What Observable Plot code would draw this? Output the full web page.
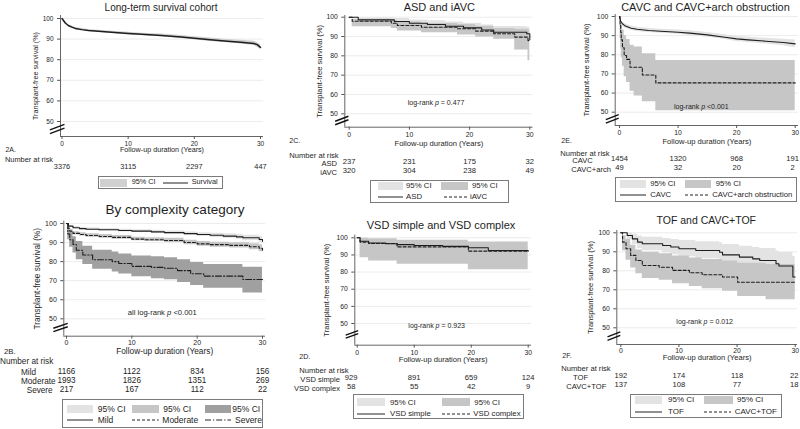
<!DOCTYPE html>
<html><head><meta charset="utf-8">
<script src="https://cdn.jsdelivr.net/npm/d3@7"></script>
<script src="https://cdn.jsdelivr.net/npm/@observablehq/plot@0.6"></script>
<style>
body{margin:0;background:#fff;font-family:"Liberation Sans",Arial,sans-serif;}
#root{position:relative;width:800px;height:429px;overflow:hidden;background:#fff;}
.abs{position:absolute;white-space:nowrap;color:#1e1e1e;}
</style></head><body><div id="root"></div>
<script>
// ---------- shared ----------
const xTicks = [0, 10, 20, 30];
const yTicks = [50, 60, 70, 80, 90, 100];
const xTitle = "Follow-up duration (Years)";
const yTitle = "Transplant-free survival (%)";

// ---------- 2A Long-term survival cohort ----------
const aTime = [0, 0.25, 0.5, 1, 1.5, 2, 3, 4, 5, 7, 10, 12, 15, 18, 20, 22, 25, 27, 29, 29.5, 30];
const aSurv = [100, 98.9, 97.8, 96.5, 95.8, 95.2, 94.6, 94.2, 93.9, 93.4, 92.7, 92.3, 91.8, 91.0, 90.4, 89.8, 89.0, 88.5, 87.9, 87.3, 86.0];
const aLo   = [100, 98.6, 97.4, 96.0, 95.3, 94.7, 94.1, 93.7, 93.4, 92.9, 92.1, 91.7, 91.1, 90.3, 89.7, 89.0, 88.2, 87.6, 86.9, 86.2, 84.8];
const aHi   = [100, 99.2, 98.2, 97.0, 96.3, 95.7, 95.1, 94.7, 94.4, 93.9, 93.3, 92.9, 92.5, 91.7, 91.1, 90.6, 89.8, 89.4, 88.9, 88.4, 87.2];
const aRisk = [3376, 3115, 2297, 447];

// ---------- 2B By complexity category ----------
const bMildTime = [0, 0.3, 1, 2, 3, 5, 8, 10, 13, 15, 18, 20, 22, 24, 26, 27, 29.5, 30];
const bMild     = [100, 98.6, 97.8, 97.3, 97.0, 96.7, 96.3, 96.0, 95.6, 95.2, 94.7, 94.2, 93.8, 93.4, 93.0, 92.5, 91.6, 90.7];
const bMildLo   = [100, 98.1, 97.2, 96.7, 96.4, 96.0, 95.6, 95.3, 94.8, 94.4, 93.8, 93.2, 92.7, 92.2, 91.7, 91.1, 90.0, 88.9];
const bMildHi   = [100, 99.1, 98.4, 97.9, 97.6, 97.4, 97.0, 96.7, 96.4, 96.0, 95.6, 95.2, 94.9, 94.6, 94.3, 93.9, 93.2, 92.5];
const bModTime  = [0, 0.2, 0.5, 1, 2, 3, 5, 7, 10, 12, 15, 18, 20, 22, 25, 28, 29.5, 30];
const bMod      = [100, 97.5, 96.0, 94.8, 94.2, 93.7, 93.2, 92.7, 91.8, 91.5, 91.1, 90.0, 89.3, 88.9, 88.5, 87.8, 87.0, 86.0];
const bModLo    = [100, 96.8, 95.1, 94.0, 93.4, 92.8, 92.3, 91.8, 90.9, 90.5, 90.0, 88.9, 88.1, 87.6, 87.1, 86.2, 85.2, 84.0];
const bModHi    = [100, 98.2, 96.9, 95.7, 95.1, 94.6, 94.2, 93.7, 92.8, 92.5, 92.2, 91.2, 90.5, 90.2, 89.9, 89.4, 88.8, 88.0];
const bSevTime  = [0, 0.2, 0.5, 1, 1.5, 2.5, 4, 7, 8, 10, 13, 15, 17, 19, 21, 27, 30];
const bSev      = [100, 94.5, 91.5, 89.0, 86.0, 83.5, 81.0, 80.0, 79.0, 77.5, 77.0, 76.5, 75.3, 73.6, 72.4, 70.6, 70.6];
const bSevLo    = [100, 91.5, 87.5, 84.5, 81.0, 78.5, 76.0, 74.5, 73.5, 72.0, 71.0, 70.5, 69.0, 67.5, 66.0, 63.6, 63.6];
const bSevHi    = [100, 97.5, 95.5, 93.0, 90.5, 88.0, 86.0, 85.0, 84.0, 83.0, 82.5, 82.0, 81.0, 79.5, 78.5, 77.0, 77.0];
const bRiskMild = [1166, 1122, 834, 156];
const bRiskMod  = [1993, 1826, 1351, 269];
const bRiskSev  = [217, 167, 112, 22];

// ---------- 2C ASD and iAVC ----------
const cAsdTime  = [0, 1.5, 7.5, 10, 13, 16, 19, 22, 24, 29.5, 30];
const cAsd      = [100, 98.6, 97.8, 96.9, 96.2, 95.3, 94.5, 93.4, 92.2, 91.4, 88.3];
const cAsdLo    = [100, 97.0, 96.0, 95.0, 94.2, 93.2, 92.2, 90.8, 89.3, 88.0, 82.0];
const cAsdHi    = [100, 99.6, 99.3, 98.6, 98.1, 97.5, 96.9, 96.0, 95.2, 94.8, 93.0];
const cIavcTime = [0, 0.5, 7, 8, 12, 18, 21, 24, 27.5, 29.7, 30];
const cIavc     = [100, 97.9, 96.9, 95.7, 94.8, 94.0, 92.8, 91.4, 89.7, 87.9, 87.9];
const cIavcLo   = [100, 95.0, 94.2, 92.8, 92.0, 90.8, 89.8, 88.6, 83.0, 77.5, 77.5];
const cIavcHi   = [100, 99.0, 98.4, 97.5, 96.8, 96.2, 95.3, 94.2, 93.7, 93.5, 93.5];
const cRiskAsd  = [237, 231, 175, 32];
const cRiskIavc = [320, 304, 238, 49];

// ---------- 2D VSD simple and VSD complex ----------
const dSimpleTime  = [0, 0.5, 2, 5, 7, 10, 15, 19.5, 23, 30];
const dSimple      = [100, 98.0, 97.0, 96.5, 96.0, 95.5, 95.0, 94.2, 92.6, 92.2];
const dSimpleLo    = [100, 97.0, 96.0, 95.3, 94.8, 94.2, 93.6, 92.7, 90.8, 90.2];
const dSimpleHi    = [100, 98.9, 98.0, 97.5, 97.1, 96.7, 96.3, 95.6, 94.3, 94.0];
const dComplexTime = [0, 0.5, 2, 7, 19.5, 30];
const dComplex     = [100, 97.5, 96.7, 94.7, 92.2, 92.2];
const dComplexLo   = [100, 88.3, 86.5, 84.5, 81.3, 81.3];
const dComplexHi   = [100, 99.8, 99.5, 98.6, 97.5, 97.5];
const dRiskSimple  = [929, 891, 659, 124];
const dRiskComplex = [58, 55, 42, 9];

// ---------- 2E CAVC and CAVC+arch obstruction ----------
const eCavcTime = [0, 0.2, 0.5, 1, 2, 3, 5, 7, 10, 12, 15, 18, 20, 22, 25, 28, 30];
const eCavc     = [100, 97.5, 96.2, 95.0, 93.9, 93.3, 92.7, 92.3, 91.8, 91.3, 90.4, 89.2, 88.3, 87.8, 87.1, 86.4, 85.7];
const eCavcLo   = [100, 96.7, 95.2, 93.9, 92.8, 92.2, 91.6, 91.2, 90.7, 90.1, 89.2, 88.0, 87.0, 86.4, 85.6, 84.7, 83.7];
const eCavcHi   = [100, 98.3, 97.2, 96.1, 95.0, 94.4, 93.8, 93.4, 92.9, 92.5, 91.6, 90.4, 89.6, 89.2, 88.6, 88.1, 87.7];
const eArchTime = [0, 0.1, 0.2, 0.3, 0.5, 0.8, 1.2, 1.8, 2.5, 3.9, 6.2, 30];
const eArch     = [100, 95.9, 91.8, 87.8, 83.7, 79.6, 77.6, 73.5, 73.5, 69.4, 65.3, 65.3];
const eArchLo   = [100, 88.5, 83.0, 78.5, 74.0, 68.5, 65.5, 61.0, 58.5, 55.5, 50.8, 50.8];
const eArchHi   = [100, 99.4, 97.5, 95.5, 93.0, 90.0, 88.0, 85.0, 84.0, 80.5, 77.0, 77.0];
const eRiskCavc = [1454, 1320, 968, 191];
const eRiskArch = [49, 32, 20, 2];

// ---------- 2F TOF and CAVC+TOF ----------
const fTofTime = [0, 1.1, 2, 2.9, 3.7, 7.2, 8.6, 10, 12.9, 17, 17.5, 20.4, 22.7, 23.9, 26.7, 27.2, 29.6, 30];
const fTof     = [100, 98.6, 96.8, 95.1, 94.2, 93.3, 92.5, 91.6, 90.7, 89.8, 88.4, 87.2, 86.3, 85.4, 83.7, 82.5, 76.7, 76.7];
const fTofLo   = [100, 96.5, 93.8, 91.8, 90.6, 89.5, 88.5, 87.4, 86.4, 85.3, 83.8, 82.4, 81.3, 80.2, 78.2, 76.6, 68.0, 68.0];
const fTofHi   = [100, 99.8, 99.2, 98.3, 97.7, 97.0, 96.5, 95.9, 95.3, 94.7, 93.8, 92.9, 92.3, 91.7, 90.4, 89.6, 87.5, 87.5];
const fCtTime  = [0, 0.3, 0.9, 1.7, 2.6, 3.7, 6.6, 8.9, 11.8, 14, 17.5, 20.1, 25, 30];
const fCt      = [100, 95.1, 91.6, 88.1, 85.4, 82.8, 81.9, 80.2, 79.0, 77.9, 76.7, 74.0, 74.0, 74.0];
const fCtLo    = [100, 90.5, 85.5, 81.5, 78.5, 76.0, 75.0, 73.2, 71.8, 70.6, 69.2, 66.5, 64.8, 64.8];
const fCtHi    = [100, 98.5, 96.5, 93.5, 91.0, 89.7, 89.0, 87.8, 86.8, 86.0, 85.2, 84.0, 83.3, 83.3];
const fRiskTof = [192, 174, 118, 22];
const fRiskCt  = [137, 108, 77, 18];

// ---------- styles ----------
const LIGHT = "#e3e3e3", MED = "#c6c6c6", DARK = "#a0a0a0", ABAND = "#d0d0d0";
const DASH = "3,2", DASHDOT = "6,2,1.2,2";

const rows = (t, s, lo, hi) => t.map((d, i) => ({t: d, s: s[i], lo: lo[i], hi: hi[i]}));
const root = document.getElementById("root");

function label(html, x, y, size, anchor = "start", extra = {}) {
  const d = document.createElement("div");
  d.className = "abs";
  d.innerHTML = html;
  d.style.fontSize = size + "px";
  d.style.lineHeight = (size * 1.2) + "px";
  d.style.top = (y - size * 0.588) + "px";
  if (anchor === "start") d.style.left = x + "px";
  else if (anchor === "end") d.style.right = (800 - x) + "px";
  else { d.style.left = x + "px"; d.style.transform = "translateX(-50%)"; }
  Object.assign(d.style, extra);
  root.appendChild(d);
}

function legendBox(box, items, size) {
  const [x1, y1, x2, y2] = box;
  const b = document.createElement("div");
  b.className = "abs";
  Object.assign(b.style, {left: x1 + "px", top: y1 + "px", width: (x2 - x1) + "px", height: (y2 - y1) + "px",
    border: "1px solid #7a7a7a", boxSizing: "border-box"});
  root.appendChild(b);
  for (const it of items) {
    if (it.fill) {
      const r = document.createElement("div");
      r.className = "abs";
      Object.assign(r.style, {left: it.x1 + "px", top: (it.y - 4) + "px", width: (it.x2 - it.x1) + "px", height: "8px", background: it.fill});
      root.appendChild(r);
    } else {
      const svg = d3.create("svg").attr("width", it.x2 - it.x1).attr("height", 4)
        .style("position", "absolute").style("left", it.x1 + "px").style("top", (it.y - 2) + "px");
      svg.append("line").attr("x1", 0).attr("x2", it.x2 - it.x1).attr("y1", 2).attr("y2", 2)
        .attr("stroke", "#222").attr("stroke-width", 1).attr("stroke-dasharray", it.dash || null);
      root.appendChild(svg.node());
    }
    label(it.label, it.lx, it.y, size);
  }
}

function drawPanel(p) {
  const [cx, cy, cw, ch] = p.cell;
  const kx = (p.X30 - p.X0) / 30, ky = (p.Y50 - p.Y100) / 50;
  const xa = -(p.X0 - p.Xl) / kx, xb = 30 + (p.Xr - p.X30) / kx;
  const ya = 50 - (p.Yb - p.Y50) / ky, yb = 100 + (p.Y100 - p.Yt) / ky;
  const yc = (ya + 50) / 2;
  const brk = [-0.9, 0.9].map(o => ({x1: xa - 1.6, x2: xa + 0.6, y1: yc + o - 1.3, y2: yc + o + 1.3}));
  const riskData = r => xTicks.map((t, i) => ({t, n: String(r.n[i])}));
  const colDx = t => t === 0 ? (p.firstDx || 0) : t === 30 ? (p.lastDx || 0) : 0;
  const marks = [
    Plot.gridY(yTicks, {stroke: "#ececec", strokeOpacity: 1}),
    ...p.bands.map(b => Plot.areaY(b.data, {x: "t", y1: "lo", y2: "hi", curve: b.curve || "step-after", fill: b.fill})),
    ...p.lines.map(l => Plot.line(l.data, {x: "t", y: "s", curve: l.curve || "step-after", stroke: "#1e1e1e",
      strokeWidth: l.width || 1.1, strokeDasharray: l.dash || null})),
    Plot.ruleX([xa], {stroke: "#555", strokeWidth: 0.9}),
    Plot.ruleY([ya], {stroke: "#555", strokeWidth: 0.9}),
    Plot.axisX(xTicks, {tickSize: 3, tickPadding: p.xPad ?? 2, fontSize: p.tick, label: null, stroke: "#555"}),
    Plot.axisY(yTicks, {tickSize: 3, tickPadding: 4, fontSize: p.tick, label: null, stroke: "#555"}),
    Plot.link(brk, {x1: "x1", y1: "y1", x2: "x2", y2: "y2", stroke: "#111", strokeWidth: 1.4}),
    Plot.text([xTitle], {frameAnchor: "bottom", textAnchor: "middle", dy: p.xlabY - p.Yb, fontSize: p.lab}),
    Plot.text([yTitle], {frameAnchor: "left", textAnchor: "middle", rotate: -90, dx: p.ylabX - p.Xl, fontSize: p.lab}),
    ...p.risk.flatMap(r => xTicks.map(t => Plot.text(riskData(r).filter(d => d.t === t),
      {x: "t", text: "n", frameAnchor: "bottom", textAnchor: "middle", dy: r.y - p.Yb, dx: colDx(t), fontSize: p.riskSize})))
  ];
  const svg = Plot.plot({
    width: cw, height: ch,
    marginLeft: p.Xl - cx, marginRight: cx + cw - p.Xr,
    marginTop: p.Yt - cy, marginBottom: cy + ch - p.Yb,
    x: {domain: [xa, xb]}, y: {domain: [ya, yb]},
    style: `position:absolute;left:${cx}px;top:${cy}px;overflow:visible;background:transparent;font-family:'Liberation Sans',Arial,sans-serif;color:#1e1e1e;max-width:none;`,
    marks
  });
  root.appendChild(svg);
  label(p.title, p.titleX, p.titleY, p.titleSize, "middle");
  label(p.tag, p.tagX, p.tagY, p.riskSize - 0.5);
  label("Number at risk", p.narX, p.narY, p.riskSize);
  for (const r of p.risk) if (r.name) label(r.name, r.lx, r.y, p.riskSize, r.anchor || "start");
  if (p.logrank) label(p.logrank, p.lrX, p.lrY, p.lrSize || 7, "middle");
  legendBox(p.legend.box, p.legend.items, p.legend.size);
}

// ---------- panels ----------
drawPanel({
  cell: [0, 0, 266, 200], Xl: 60, X0: 61.5, X30: 260, Xr: 263, Yt: 15, Y100: 18, Y50: 121, Yb: 136,
  tick: 6.5, lab: 7.2, riskSize: 7.4, xlabY: 151.5, ylabX: 35, xPad: 1.5,
  bands: [{data: rows(aTime, aSurv, aLo, aHi), fill: ABAND, curve: "linear"}],
  lines: [{data: rows(aTime, aSurv, aLo, aHi), curve: "linear", width: 1.5}],
  risk: [{n: aRisk, y: 168}],
  title: "Long-term survival cohort", titleX: 161, titleY: 7.5, titleSize: 10,
  tag: "2A.", tagX: 5.5, tagY: 150, narX: 5, narY: 160,
  legend: {box: [98.3, 176, 223.3, 189.3], size: 7.3, items: [
    {fill: ABAND, x1: 99.7, x2: 126.7, y: 182.7, label: "95% CI", lx: 131.7},
    {x1: 163.3, x2: 188.3, y: 182.7, label: "Survival", lx: 191.7}]}
});

drawPanel({
  cell: [0, 200, 266, 229], Xl: 63.3, X0: 66, X30: 262, Xr: 265, Yt: 220.7, Y100: 223, Y50: 318.3, Yb: 335.7,
  tick: 7, lab: 8.3, riskSize: 8.2, xlabY: 353.5, ylabX: 37, xPad: 1,
  bands: [
    {data: rows(bMildTime, bMild, bMildLo, bMildHi), fill: LIGHT},
    {data: rows(bModTime, bMod, bModLo, bModHi), fill: MED},
    {data: rows(bSevTime, bSev, bSevLo, bSevHi), fill: DARK}],
  lines: [
    {data: rows(bMildTime, bMild, bMildLo, bMildHi)},
    {data: rows(bModTime, bMod, bModLo, bModHi), dash: DASH},
    {data: rows(bSevTime, bSev, bSevLo, bSevHi), dash: DASHDOT}],
  risk: [
    {n: bRiskMild, y: 373.3, name: "Mild", lx: 21},
    {n: bRiskMod, y: 382.3, name: "Moderate", lx: 21},
    {n: bRiskSev, y: 391.3, name: "Severe", lx: 26.7}],
  title: "By complexity category", titleX: 175, titleY: 209.5, titleSize: 13.5,
  tag: "2B.", tagX: 4, tagY: 351.5, narX: 0, narY: 361.8,
  logrank: "all log-rank <i>p</i> &lt;0.001", lrX: 162.3, lrY: 312.3, lrSize: 7.6,
  legend: {box: [61.7, 399, 263.3, 428], size: 8.5, items: [
    {fill: LIGHT, x1: 66.7, x2: 93.3, y: 409, label: "95% CI", lx: 97.7},
    {fill: MED, x1: 132.3, x2: 159, y: 409, label: "95% CI", lx: 163.3},
    {fill: DARK, x1: 205, x2: 231, y: 409, label: "95% CI", lx: 232.3},
    {x1: 66.7, x2: 93.3, y: 420, label: "Mild", lx: 97.7},
    {x1: 132.3, x2: 159, y: 420, dash: DASH, label: "Moderate", lx: 162.3},
    {x1: 205, x2: 231, y: 420, dash: DASHDOT, label: "Severe", lx: 235}]}
});

drawPanel({
  cell: [266, 0, 267, 200], Xl: 344.3, X0: 348.7, X30: 529.3, Xr: 532.5, Yt: 15, Y100: 16.7, Y50: 113.3, Yb: 126.7,
  tick: 6.8, lab: 7.6, riskSize: 7.6, xlabY: 145, ylabX: 319.3,
  bands: [
    {data: rows(cAsdTime, cAsd, cAsdLo, cAsdHi), fill: LIGHT},
    {data: rows(cIavcTime, cIavc, cIavcLo, cIavcHi), fill: MED}],
  lines: [
    {data: rows(cAsdTime, cAsd, cAsdLo, cAsdHi)},
    {data: rows(cIavcTime, cIavc, cIavcLo, cIavcHi), dash: DASH}],
  risk: [
    {n: cRiskAsd, y: 163.3, name: "ASD", lx: 337, anchor: "end"},
    {n: cRiskIavc, y: 172, name: "iAVC", lx: 337, anchor: "end"}],
  title: "ASD and iAVC", titleX: 439.3, titleY: 7, titleSize: 11,
  tag: "2C.", tagX: 289.3, tagY: 141, narX: 289.3, narY: 155,
  logrank: "log-rank <i>p</i> = 0.477", lrX: 436, lrY: 103.3,
  legend: {box: [370, 180, 508.7, 203.3], size: 7.8, items: [
    {fill: LIGHT, x1: 377.7, x2: 402.7, y: 185.7, label: "95% CI", lx: 406},
    {fill: MED, x1: 441, x2: 467.7, y: 185.7, label: "95% CI", lx: 472},
    {x1: 377.7, x2: 402.7, y: 196.7, label: "ASD", lx: 406},
    {x1: 444.3, x2: 467.7, y: 196.7, dash: DASH, label: "iAVC", lx: 470}]}
});

drawPanel({
  cell: [266, 200, 267, 229], Xl: 354.3, X0: 356.7, X30: 527.7, Xr: 531, Yt: 234.7, Y100: 237.3, Y50: 323, Yb: 344.7,
  tick: 6.8, lab: 7.6, riskSize: 7.6, xlabY: 361.5, ylabX: 326, firstDx: -6, xPad: 1.5,
  bands: [
    {data: rows(dSimpleTime, dSimple, dSimpleLo, dSimpleHi), fill: LIGHT},
    {data: rows(dComplexTime, dComplex, dComplexLo, dComplexHi), fill: MED}],
  lines: [
    {data: rows(dSimpleTime, dSimple, dSimpleLo, dSimpleHi)},
    {data: rows(dComplexTime, dComplex, dComplexLo, dComplexHi), dash: DASH}],
  risk: [
    {n: dRiskSimple, y: 379, name: "VSD simple", lx: 340, anchor: "end"},
    {n: dRiskComplex, y: 388, name: "VSD complex", lx: 340, anchor: "end"}],
  title: "VSD simple and VSD complex", titleX: 441, titleY: 225.7, titleSize: 11,
  tag: "2D.", tagX: 299.3, tagY: 357.3, narX: 299.3, narY: 370.5,
  logrank: "log-rank <i>p</i> = 0.923", lrX: 436.7, lrY: 325.7,
  legend: {box: [353.3, 394, 524.3, 418.5], size: 7.8, items: [
    {fill: LIGHT, x1: 356.7, x2: 385.3, y: 402.3, label: "95% CI", lx: 390},
    {fill: MED, x1: 442, x2: 470, y: 402.3, label: "95% CI", lx: 474.3},
    {x1: 356.7, x2: 385.3, y: 413.5, label: "VSD simple", lx: 390},
    {x1: 442, x2: 470, y: 413.5, dash: DASH, label: "VSD complex", lx: 473.3}]}
});

drawPanel({
  cell: [533, 0, 267, 200], Xl: 614.7, X0: 619, X30: 794.7, Xr: 798, Yt: 14, Y100: 16, Y50: 111.7, Yb: 125,
  tick: 6.8, lab: 7.6, riskSize: 7.6, xlabY: 143.5, ylabX: 586.3, lastDx: -2.5,
  bands: [
    {data: rows(eCavcTime, eCavc, eCavcLo, eCavcHi), fill: LIGHT, curve: "linear"},
    {data: rows(eArchTime, eArch, eArchLo, eArchHi), fill: MED}],
  lines: [
    {data: rows(eCavcTime, eCavc, eCavcLo, eCavcHi), curve: "linear"},
    {data: rows(eArchTime, eArch, eArchLo, eArchHi), dash: DASH}],
  risk: [
    {n: eRiskCavc, y: 160.7, name: "CAVC", lx: 572.3},
    {n: eRiskArch, y: 169, name: "CAVC+arch", lx: 571.3}],
  title: "CAVC and CAVC+arch obstruction", titleX: 705.5, titleY: 7.5, titleSize: 11,
  tag: "2E.", tagX: 561.3, tagY: 140.7, narX: 560.3, narY: 153,
  logrank: "log-rank <i>p</i> &lt;0.001", lrX: 701.3, lrY: 106.7,
  legend: {box: [614.7, 176.7, 797, 201.7], size: 7.7, items: [
    {fill: LIGHT, x1: 620.3, x2: 646.3, y: 184, label: "95% CI", lx: 650.3},
    {fill: MED, x1: 684.7, x2: 711.3, y: 184, label: "95% CI", lx: 715.7},
    {x1: 620.3, x2: 646.3, y: 195, label: "CAVC", lx: 650.3},
    {x1: 684.7, x2: 709.5, y: 195, dash: DASH, label: "CAVC+arch obstruction", lx: 712.3}]}
});

drawPanel({
  cell: [533, 200, 267, 229], Xl: 616.3, X0: 620.3, X30: 794.7, Xr: 797, Yt: 230, Y100: 232.3, Y50: 327.3, Yb: 344,
  tick: 6.8, lab: 7.6, riskSize: 7.6, xlabY: 359.5, ylabX: 590.3, xPad: 1, lastDx: -1,
  bands: [
    {data: rows(fTofTime, fTof, fTofLo, fTofHi), fill: LIGHT},
    {data: rows(fCtTime, fCt, fCtLo, fCtHi), fill: MED}],
  lines: [
    {data: rows(fTofTime, fTof, fTofLo, fTofHi)},
    {data: rows(fCtTime, fCt, fCtLo, fCtHi), dash: DASH}],
  risk: [
    {n: fRiskTof, y: 377.3, name: "TOF", lx: 573},
    {n: fRiskCt, y: 386.7, name: "CAVC+TOF", lx: 566.3}],
  title: "TOF and CAVC+TOF", titleX: 706.3, titleY: 220, titleSize: 10.5,
  tag: "2F.", tagX: 562.3, tagY: 355.7, narX: 561.3, narY: 368.5,
  logrank: "log-rank <i>p</i> = 0.012", lrX: 704.7, lrY: 322.3,
  legend: {box: [630.3, 394, 782.3, 418], size: 8, items: [
    {fill: LIGHT, x1: 634.7, x2: 662.3, y: 400, label: "95% CI", lx: 668},
    {fill: MED, x1: 703.7, x2: 733, y: 400, label: "95% CI", lx: 737},
    {x1: 634.7, x2: 662.3, y: 411.5, label: "TOF", lx: 668},
    {x1: 703.7, x2: 731, y: 411.5, dash: DASH, label: "CAVC+TOF", lx: 734.7}]}
});
</script></body></html>
